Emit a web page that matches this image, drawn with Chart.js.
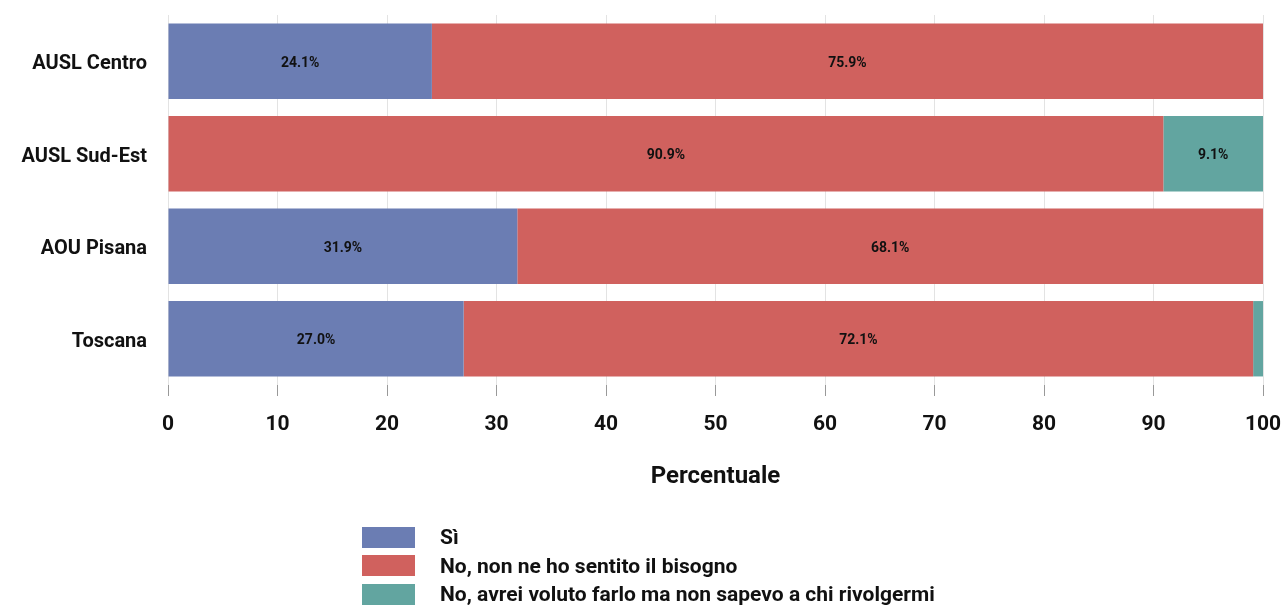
<!DOCTYPE html>
<html>
<head>
<meta charset="utf-8">
<script src="https://cdn.jsdelivr.net/npm/chart.js@4"></script>
<style>
    html, body { margin: 0; padding: 0; background: #fff; }
    #wrap { position: relative; width: 1281px; height: 606px; }
    #legend { position: absolute; left: 362px; top: 523px; font: bold 21px Roboto, sans-serif; color: #111; }
    #legend div { display: flex; align-items: center; height: 28.5px; }
    #legend span.box { width: 53px; height: 21px; margin-right: 25px; display: inline-block; }
</style>
</head>
<body>
<div id="wrap">
    <canvas id="chart-canvas" width="1281" height="606"></canvas>
    <div id="legend"></div>
</div>
<script>
const categories = ['AUSL Centro', 'AUSL Sud-Est', 'AOU Pisana', 'Toscana'];
const seriesNames = ['Sì', 'No, non ne ho sentito il bisogno', 'No, avrei voluto farlo ma non sapevo a chi rivolgermi'];
const si = [24.1, 0, 31.9, 27.0];
const noBisogno = [75.9, 90.9, 68.1, 72.1];
const noSapevo = [0, 9.1, 0, 0.9];
const xTicks = [0, 10, 20, 30, 40, 50, 60, 70, 80, 90, 100];
const colors = ['#6b7db3', '#d0615e', '#62a5a0'];

const FONT = 'Roboto, sans-serif';

// etichette percentuali dentro le barre
const barLabels = {
    id: 'barLabels',
    afterDatasetsDraw(chart) {
        const ctx = chart.ctx;
        ctx.save();
        ctx.font = 'bold 14px ' + FONT;
        ctx.fillStyle = '#111';
        ctx.textAlign = 'center';
        ctx.textBaseline = 'middle';
        chart.data.datasets.forEach((ds, i) => {
            chart.getDatasetMeta(i).data.forEach((bar, j) => {
                const v = ds.data[j];
                if (v < 3) return;
                const x = (bar.x + bar.base) / 2;
                ctx.fillText(v.toFixed(1) + '%', x, bar.y + 2);
            });
        });
        ctx.restore();
    }
};

const ctx = document.getElementById('chart-canvas').getContext('2d');
const chart = new Chart(ctx, {
    type: 'bar',
    data: {
        labels: categories,
        datasets: [si, noBisogno, noSapevo].map((d, i) => ({
            label: seriesNames[i],
            data: d,
            backgroundColor: colors[i],
            borderWidth: 0,
            barPercentage: 0.815,
            categoryPercentage: 1
        }))
    },
    options: {
        indexAxis: 'y',
        responsive: false,
        animation: false,
        layout: { padding: { top: 15, right: 18, bottom: 111, left: 0 } },
        plugins: {
            legend: { display: false },
            tooltip: { enabled: false }
        },
        scales: {
            x: {
                stacked: true,
                min: 0,
                max: 100,
                afterBuildTicks: (scale) => { scale.ticks = xTicks.map(v => ({ value: v })); },
                afterFit: (scale) => { scale.paddingRight = 0; scale.paddingLeft = 0; },
                grid: { color: '#e3e3e3', tickColor: '#999', tickLength: 11, lineWidth: 1 },
                border: { display: false },
                ticks: { color: '#111', font: { family: FONT, size: 21, weight: 'bold' }, padding: 16, maxRotation: 0 },
                title: { display: true, text: 'Percentuale', color: '#111', font: { family: FONT, size: 24, weight: 'bold' }, padding: { top: 9 } }
            },
            y: {
                stacked: true,
                afterFit: (scale) => { scale.width = 168; scale.paddingTop = 0; scale.paddingBottom = 0; },
                grid: { display: false },
                border: { display: false },
                ticks: { color: '#111', font: { family: FONT, size: 20, weight: 'bold' }, padding: 13, labelOffset: 3 }
            }
        }
    },
    plugins: [barLabels]
});

const legend = document.getElementById('legend');
chart.data.datasets.forEach(ds => {
    const row = document.createElement('div');
    row.innerHTML = '<span class="box" style="background:' + ds.backgroundColor + '"></span>' + ds.label;
    legend.appendChild(row);
});
</script>
</body>
</html>
